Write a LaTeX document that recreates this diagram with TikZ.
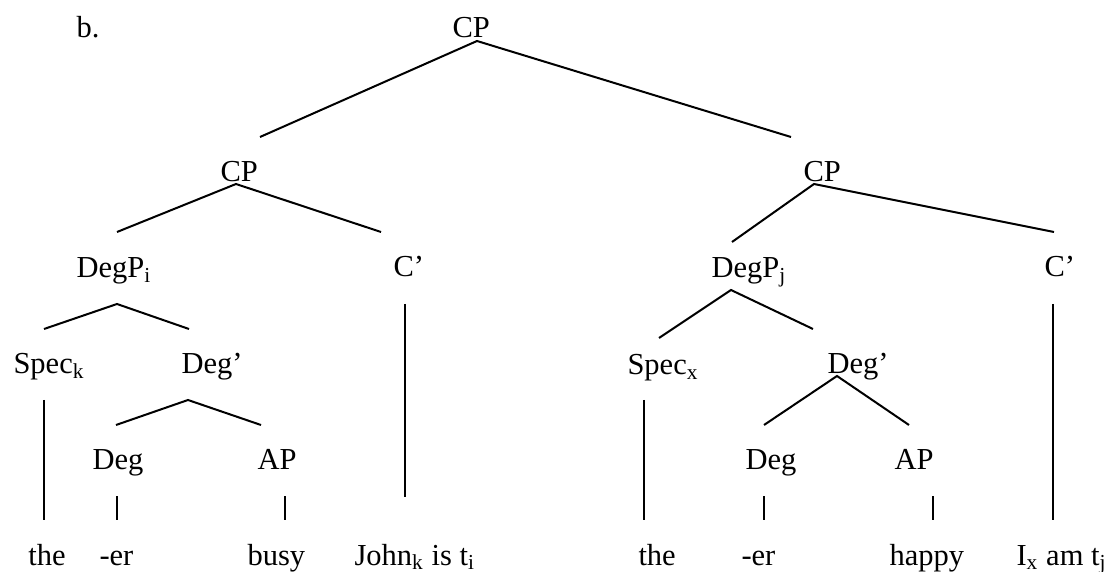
\documentclass[tikz,border=0pt]{standalone}
\usepackage{fontspec}
\setmainfont{Liberation Serif}

\tikzset{
	lbl/.style={anchor=base west, inner sep=0pt, font=\fontsize{12.2}{14}\selectfont},
	branch/.style={line width=0.8pt}
}

\begin{document}
\begin{tikzpicture}[x=0.4pt,y=-0.4pt]
	\useasboundingbox (0,0) rectangle (1107,572);
	% labels
	\node[lbl] (ex) at (76,38) {b.};
	\node[lbl] (cpT) at (452,38) {CP};
	\node[lbl] (cpL) at (220,182) {CP};
	\node[lbl] (cpR) at (803,182) {CP};
	\node[lbl] (degPi) at (76,278) {DegP\textsubscript{i}};
	\node[lbl] (cbarL) at (393,277) {C’};
	\node[lbl] (degPj) at (711,278) {DegP\textsubscript{j}};
	\node[lbl] (cbarR) at (1044,277) {C’};
	\node[lbl] (specK) at (13,374) {Spec\textsubscript{k}};
	\node[lbl] (dbarL) at (181,374) {Deg’};
	\node[lbl] (specX) at (627,375) {Spec\textsubscript{x}};
	\node[lbl] (dbarR) at (827,374) {Deg’};
	\node[lbl] (degL) at (92,470) {Deg};
	\node[lbl] (apL) at (257,470) {AP};
	\node[lbl] (degR) at (745,470) {Deg};
	\node[lbl] (apR) at (894,470) {AP};
	\node[lbl] (theL) at (28,565) {the};
	\node[lbl] (erL) at (99,565) {-er};
	\node[lbl] (busy) at (247,565) {busy};
	\node[lbl] (john) at (354,565) {John\textsubscript{k} is t\textsubscript{i}};
	\node[lbl] (theR) at (638,565) {the};
	\node[lbl] (erR) at (741,565) {-er};
	\node[lbl] (happy) at (889,565) {happy};
	\node[lbl] (ix) at (1016,565) {I\textsubscript{x} am t\textsubscript{j}};
	% branch ends
	\coordinate (cpT-b) at (477,41);
	\coordinate (cpL-t) at (260,137);
	\coordinate (cpR-t) at (791,137);
	\coordinate (cpL-b) at (236,184);
	\coordinate (degPi-t) at (117,232);
	\coordinate (cbarL-t) at (381,232);
	\coordinate (cpR-b) at (814,184);
	\coordinate (degPj-t) at (732,242);
	\coordinate (cbarR-t) at (1054,232);
	\coordinate (degPi-b) at (117,304);
	\coordinate (specK-t) at (44,329);
	\coordinate (dbarL-t) at (189,329);
	\coordinate (dbarL-b) at (188,400);
	\coordinate (degL-t) at (116,425);
	\coordinate (apL-t) at (261,425);
	\coordinate (degPj-b) at (731,290);
	\coordinate (specX-t) at (659,338);
	\coordinate (dbarR-t) at (813,329);
	\coordinate (dbarR-b) at (837,376);
	\coordinate (degR-t) at (764,425);
	\coordinate (apR-t) at (909,425);
	% branches
	\draw[branch] (cpL-t) -- (cpT-b) -- (cpR-t);
	\draw[branch] (degPi-t) -- (cpL-b) -- (cbarL-t);
	\draw[branch] (degPj-t) -- (cpR-b) -- (cbarR-t);
	\draw[branch] (specK-t) -- (degPi-b) -- (dbarL-t);
	\draw[branch] (degL-t) -- (dbarL-b) -- (apL-t);
	\draw[branch] (specX-t) -- (degPj-b) -- (dbarR-t);
	\draw[branch] (degR-t) -- (dbarR-b) -- (apR-t);
	% unary branches
	\coordinate (specK-b) at (44,400);
	\coordinate (theL-t) at (44,520);
	\coordinate (degL-b) at (117,496);
	\coordinate (erL-t) at (117,520);
	\coordinate (apL-b) at (285,496);
	\coordinate (busy-t) at (285,520);
	\coordinate (cbarL-b) at (405,304);
	\coordinate (john-t) at (405,497);
	\coordinate (specX-b) at (644,400);
	\coordinate (theR-t) at (644,520);
	\coordinate (degR-b) at (764,496);
	\coordinate (erR-t) at (764,520);
	\coordinate (apR-b) at (933,496);
	\coordinate (happy-t) at (933,520);
	\coordinate (cbarR-b) at (1053,304);
	\coordinate (ix-t) at (1053,520);
	\draw[branch] (specK-b) -- (theL-t);
	\draw[branch] (degL-b) -- (erL-t);
	\draw[branch] (apL-b) -- (busy-t);
	\draw[branch] (cbarL-b) -- (john-t);
	\draw[branch] (specX-b) -- (theR-t);
	\draw[branch] (degR-b) -- (erR-t);
	\draw[branch] (apR-b) -- (happy-t);
	\draw[branch] (cbarR-b) -- (ix-t);
\end{tikzpicture}
\end{document}
